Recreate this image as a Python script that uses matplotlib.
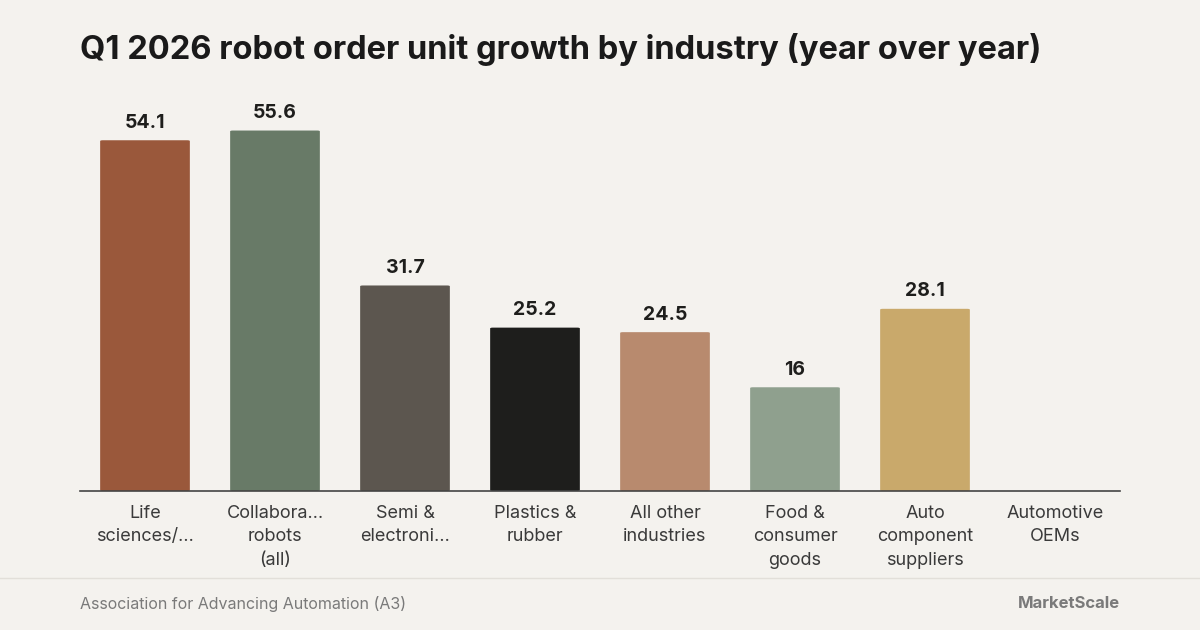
import matplotlib
matplotlib.use("Agg")
import matplotlib.pyplot as plt
from matplotlib.patches import FancyBboxPatch
import numpy as np

categories = ["Life\nsciences/…", "Collabora…\nrobots\n(all)", "Semi &\nelectroni…", "Plastics &\nrubber",
              "All other\nindustries", "Food &\nconsumer\ngoods", "Auto\ncomponent\nsuppliers", "Automotive\nOEMs"]
values = [54.1, 55.6, 31.7, 25.2, 24.5, 16, 28.1, None]
labels = ["54.1", "55.6", "31.7", "25.2", "24.5", "16", "28.1", ""]
colors = ["#9a583b", "#687a67", "#5c564f", "#1e1e1c", "#b88a6e", "#8fa08e", "#c9a96b", "#c9a96b"]

bg = "#f4f2ee"
plt.rcParams['font.family'] = ['Inter', 'DejaVu Sans']
fig = plt.figure(figsize=(12, 6.3), dpi=100, facecolor=bg)
ax = fig.add_axes([80/1200, 139/630, 1040/1200, 389/630], facecolor=bg)
x = np.arange(len(categories))
for i, (v, c, l) in enumerate(zip(values, colors, labels)):
    if v is None:
        continue
    bars = ax.bar(i, v, width=0.69, color=c, edgecolor='none')
    b = bars[0]
    b.set_visible(False)
    ax.add_patch(FancyBboxPatch((b.get_x(), 0), b.get_width(), v,
                                boxstyle="round,pad=0,rounding_size=0.02",
                                mutation_aspect=60/389*1040/8/1.0 * 8/1040*389/60 * 6.0,
                                facecolor=c, edgecolor='none'))
    ax.text(i, v + 1.3, l, ha='center', va='bottom', fontsize=14, fontweight='bold', color='#1e1e1c')
ax.set_xlim(-0.5, 7.5)
ax.set_ylim(0, 60)
ax.set_yticks([])
ax.set_xticks(x)
ax.set_xticklabels(categories, fontsize=13, color='#3a3a3a', linespacing=1.5)
ax.tick_params(axis='x', length=0, pad=10)
for s in ['top', 'right', 'left']:
    ax.spines[s].set_visible(False)
ax.spines['bottom'].set_color('#444444')
ax.spines['bottom'].set_linewidth(1.2)
ax.spines['bottom'].set_zorder(5)

fig.text(80/1200, 1 - 50/630, "Q1 2026 robot order unit growth by industry (year over year)",
         fontsize=23.5, fontweight='bold', color='#1a1a1a', va='center')
fig.add_artist(plt.Line2D([0, 1], [1 - 578/630, 1 - 578/630], color='#e2dfd9', lw=1))
fig.text(80/1200, 1 - 604/630, "Association for Advancing Automation (A3)", fontsize=11.5,
         color='#7a7a7a', va='center')
fig.text(1120/1200, 1 - 604/630, "MarketScale", fontsize=12, color='#7a7a7a', va='center', ha='right',
         fontweight='bold')
fig.savefig("out.png", dpi=100, facecolor=bg)
